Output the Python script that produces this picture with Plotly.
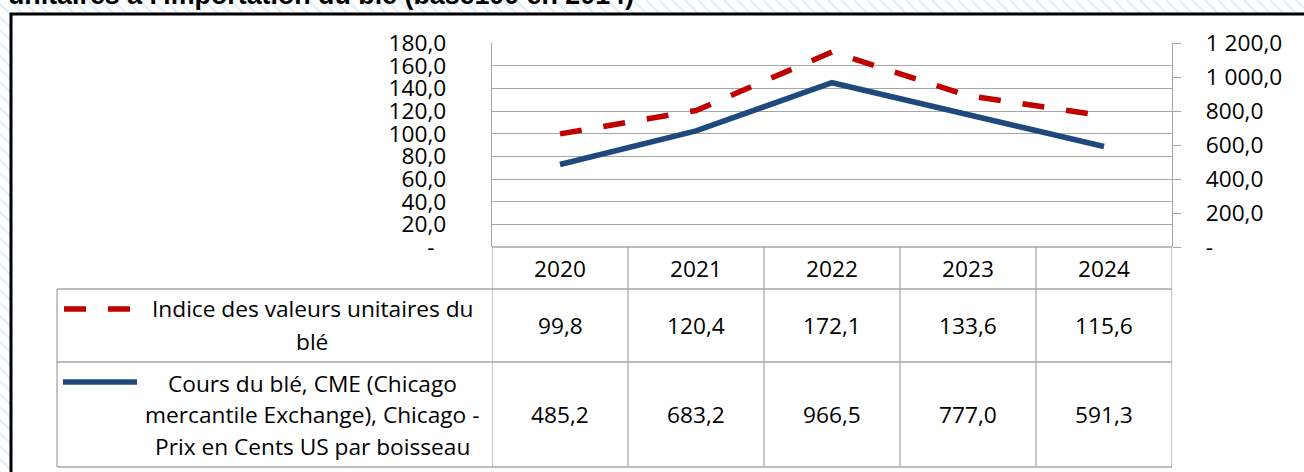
import plotly.graph_objects as go

# ---------------- data ----------------
years = ["2020", "2021", "2022", "2023", "2024"]
indice = [99.8, 120.4, 172.1, 133.6, 115.6]
cours = [485.2, 683.2, 966.5, 777.0, 591.3]
indice_name = "Indice des valeurs unitaires du blé"
cours_name = "Cours du blé, CME (Chicago mercantile Exchange), Chicago - Prix en Cents US par boisseau"
indice_lines = ["Indice des valeurs unitaires du", "blé"]
cours_lines = ["Cours du blé, CME (Chicago", "mercantile Exchange), Chicago -", "Prix en Cents US par boisseau"]
left_ticks = [0, 20, 40, 60, 80, 100, 120, 140, 160, 180]
right_ticks = [0, 200, 400, 600, 800, 1000, 1200]
title_text = "unitaires à l'importation du blé (base100 en 2014)"

# ---------------- styles / geometry ----------------
W, H = 1304, 472
RED = "#C00000"
BLUE = "#1F497D"
GRID = "#A6A6A6"
FONT = "Open Sans"
FS = 22.7
LW = 5.5
RED_DASH = "22px,22px"

PL, PR, PT, PB = 492, 1172, 43, 247
LEG_L = 57
ROW_H1, ROW_H2, ROW_H3 = 289, 362, 467
TEXT_CX = 312


def px(x):
    return x / W


def py(y):
    return 1 - y / H


def fmt(v, zero="-"):
    if v == 0:
        return zero
    s = f"{v:,.1f}"
    return s.replace(",", "\u00a0").replace(".", ",")


fig = go.Figure()
fig.add_trace(go.Scatter(x=years, y=indice, name=indice_name, mode="lines",
                         line=dict(color=RED, width=LW, dash=RED_DASH), yaxis="y"))
fig.add_trace(go.Scatter(x=years, y=cours, name=cours_name, mode="lines",
                         line=dict(color=BLUE, width=LW), yaxis="y2"))

shapes = []
# faint hatch background
x0 = -H
while x0 < W:
    shapes.append(dict(type="line", xref="paper", yref="paper",
                       x0=px(x0), y0=py(0), x1=px(x0 + H), y1=py(H),
                       line=dict(color="#E3F0F7", width=2.5), layer="below"))
    x0 += 13
# white chart area + black border
shapes.append(dict(type="rect", xref="paper", yref="paper",
                   x0=px(11), y0=py(14), x1=1.05, y1=-0.05,
                   fillcolor="white", line=dict(color="black", width=3), layer="below"))

# table lines
tl = dict(color=GRID, width=1.3)
for yy in [PB, ROW_H1, ROW_H2, ROW_H3]:
    xs = px(PL) if yy == PB else px(LEG_L)
    shapes.append(dict(type="line", xref="paper", yref="paper", x0=xs, x1=px(PR),
                       y0=py(yy), y1=py(yy), line=tl))
for i in range(len(years) + 1):
    shapes.append(dict(type="line", xref="x", yref="paper", x0=i - 0.5, x1=i - 0.5,
                       y0=py(PB), y1=py(ROW_H3), line=tl))
shapes.append(dict(type="line", xref="paper", yref="paper", x0=px(LEG_L), x1=px(LEG_L),
                   y0=py(ROW_H1), y1=py(ROW_H3), line=tl))

# legend keys in table
shapes.append(dict(type="line", xref="paper", yref="paper", x0=px(64), x1=px(138),
                   y0=py(309), y1=py(309), line=dict(color=RED, width=LW, dash=RED_DASH)))
shapes.append(dict(type="line", xref="paper", yref="paper", x0=px(63), x1=px(137),
                   y0=py(382), y1=py(382), line=dict(color=BLUE, width=LW)))

ann = []
# title (clipped at top)
ann.append(dict(text=f"<b>{title_text}</b>", xref="paper", yref="paper", x=px(6), y=py(12),
                xanchor="left", yanchor="bottom", showarrow=False,
                font=dict(family="Liberation Sans", size=26.8, color="black")))
# header years + values
for i, yr in enumerate(years):
    ann.append(dict(text=yr, xref="x", yref="paper", x=i, y=py(268), showarrow=False,
                    xanchor="center", yanchor="middle", font=dict(family=FONT, size=FS, color="black")))
    ann.append(dict(text=fmt(indice[i]), xref="x", yref="paper", x=i, y=py(325), showarrow=False,
                    xanchor="center", yanchor="middle", font=dict(family=FONT, size=FS, color="black")))
    ann.append(dict(text=fmt(cours[i]), xref="x", yref="paper", x=i, y=py(414), showarrow=False,
                    xanchor="center", yanchor="middle", font=dict(family=FONT, size=FS, color="black")))
# series names
for k, line in enumerate(indice_lines):
    ann.append(dict(text=line, xref="paper", yref="paper", x=px(TEXT_CX), y=py(308 + 33 * k),
                    showarrow=False, xanchor="center", yanchor="middle",
                    font=dict(family=FONT, size=FS, color="black")))
for k, line in enumerate(cours_lines):
    ann.append(dict(text=line, xref="paper", yref="paper", x=px(TEXT_CX), y=py(383 + 31.5 * k),
                    showarrow=False, xanchor="center", yanchor="middle",
                    font=dict(family=FONT, size=FS, color="black")))

fig.update_layout(
    template="none",
    width=W, height=H,
    margin=dict(l=0, r=0, t=0, b=0, pad=0, autoexpand=False),
    paper_bgcolor="white", plot_bgcolor="rgba(0,0,0,0)",
    showlegend=False,
    font=dict(family=FONT, size=FS, color="black"),
    xaxis=dict(type="category", domain=[px(PL), px(PR)], range=[-0.5, len(years) - 0.5],
               showticklabels=False, showgrid=False, zeroline=False, showline=False, ticks="",
               automargin=False),
    yaxis=dict(domain=[py(PB), py(PT)], range=[0, 180], tickvals=left_ticks,
               ticktext=[fmt(v, "-\u00a0\u00a0") for v in left_ticks],
               showgrid=True, gridcolor=GRID, gridwidth=1.3, zeroline=False,
               showline=True, linecolor=GRID, linewidth=1.3, ticks="", automargin=False,
               ticklabelstandoff=40, tickfont=dict(family=FONT, size=FS, color="black")),
    yaxis2=dict(overlaying="y", side="right", range=[0, 1200], tickvals=right_ticks,
                ticktext=[fmt(v) for v in right_ticks], automargin=False,
                showgrid=False, zeroline=False, showline=True, linecolor=GRID, linewidth=1.3,
                ticks="outside", ticklen=8, tickcolor=GRID, tickwidth=1.3,
                ticklabelstandoff=20, tickfont=dict(family=FONT, size=FS, color="black")),
    shapes=shapes,
    annotations=ann,
)

fig.write_html("out.html", config={"displayModeBar": False},
               post_script="document.body.style.margin='0';")
